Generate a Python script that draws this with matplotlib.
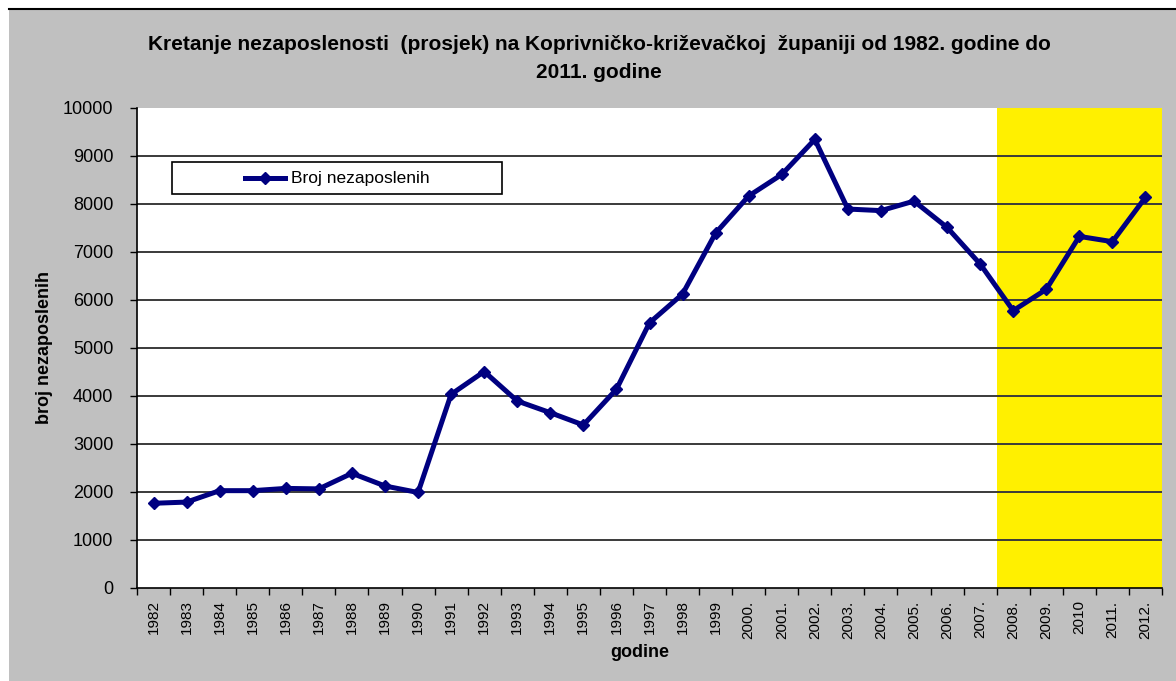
import matplotlib
matplotlib.use("Agg")
import matplotlib.pyplot as plt
from matplotlib.patches import Rectangle
from matplotlib.lines import Line2D
from matplotlib.ticker import FixedLocator, NullFormatter

plt.rcParams['font.family'] = ['Liberation Sans', 'DejaVu Sans']

years = ["1982", "1983", "1984", "1985", "1986", "1987", "1988", "1989", "1990",
         "1991", "1992", "1993", "1994", "1995", "1996", "1997", "1998", "1999",
         "2000.", "2001.", "2002.", "2003.", "2004.", "2005.", "2006.", "2007.",
         "2008.", "2009.", "2010", "2011.", "2012."]
unemployed = [1765, 1790, 2028, 2028, 2075, 2065, 2390, 2125, 1990,
              4035, 4510, 3896, 3652, 3396, 4140, 5525, 6125, 7395,
              8167, 8615, 9345, 7895, 7862, 8060, 7512, 6750,
              5778, 6222, 7325, 7215, 8139]
highlight_from = "2008."

W, H = 1176, 681
fig = plt.figure(figsize=(W / 100, H / 100), dpi=100, facecolor='white')

# grey chart area with black top border
fig.patches.append(Rectangle((9 / W, 0), 1 - 9 / W, (H - 9) / H, transform=fig.transFigure,
                             facecolor='#C0C0C0', edgecolor='none', zorder=-5))
fig.lines.append(Line2D([9 / W, 1], [1 - 9 / H, 1 - 9 / H], transform=fig.transFigure,
                        color='black', lw=1.5, zorder=1))

ax = fig.add_axes([137 / W, 1 - 588 / H, (1162 - 137) / W, (588 - 108) / H])
ax.set_facecolor('white')

x = list(range(len(years)))
hi = years.index(highlight_from)
ax.axvspan(hi - 0.5, len(years) - 0.5, color='#FFF000', zorder=0, lw=0)

ax.plot(x, unemployed, color='#000080', lw=3.6, marker='D', markersize=6.5,
        markeredgecolor='#000080', zorder=3, label='Broj nezaposlenih')

ax.set_xlim(-0.5, len(years) - 0.5)
ax.set_ylim(0, 10000)
ax.set_yticks(range(0, 10001, 1000))
ax.tick_params(axis='y', labelsize=13, length=5, width=1, direction='out', pad=12, colors='black')

ax.xaxis.set_major_locator(FixedLocator([i - 0.5 for i in range(len(years) + 1)]))
ax.xaxis.set_major_formatter(NullFormatter())
ax.xaxis.set_minor_locator(FixedLocator(x))
ax.set_xticklabels(years, minor=True, rotation=90, fontsize=11)
ax.tick_params(axis='x', which='major', length=5, width=1, direction='out')
ax.tick_params(axis='x', which='minor', length=0, pad=9)

for yv in range(1000, 10000, 1000):
    ax.axhline(yv, color='#3A3A3A', lw=1.4, zorder=1)

for s in ['top', 'right']:
    ax.spines[s].set_visible(False)
ax.spines['left'].set_linewidth(1.2)
ax.spines['bottom'].set_linewidth(1.2)

ax.set_xlabel('godine', fontsize=13, fontweight='bold')
ax.set_ylabel('broj nezaposlenih', fontsize=13, fontweight='bold')
ax.xaxis.set_label_coords((640 - 137) / (1162 - 137), -(644 - 588) / (588 - 108))
ax.yaxis.set_label_coords(-(137 - 53) / (1162 - 137), 0.5)

fig.text(599 / W, 1 - 45 / H, 'Kretanje nezaposlenosti  (prosjek) na Koprivničko-križevačkoj  županiji od 1982. godine do',
         ha='center', va='center', fontsize=15, fontweight='bold')
fig.text(599 / W, 1 - 72 / H, '2011. godine', ha='center', va='center', fontsize=15, fontweight='bold')

# legend box
fig.patches.append(Rectangle((172 / W, 1 - 194 / H), (502 - 172) / W, (194 - 162) / H,
                             transform=fig.transFigure, facecolor='white', edgecolor='black',
                             lw=1.2, zorder=5))
fig.lines.append(Line2D([245 / W, 285 / W], [1 - 178 / H, 1 - 178 / H], transform=fig.transFigure,
                        color='#000080', lw=3.6, zorder=6))
fig.lines.append(Line2D([265 / W], [1 - 178 / H], transform=fig.transFigure, color='#000080',
                        marker='D', markersize=6, zorder=6))
fig.text(291 / W, 1 - 178 / H, 'Broj nezaposlenih', ha='left', va='center', fontsize=12.5, zorder=7)

fig.savefig('out.png', dpi=100, facecolor=fig.get_facecolor())
